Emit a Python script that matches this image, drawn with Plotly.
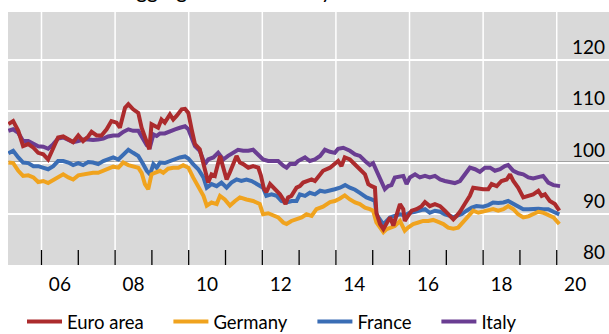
import plotly.graph_objects as go

# ---------------- data (index values) ----------------
euro_x = [2005.10, 2005.23, 2005.37, 2005.50, 2005.64, 2005.78, 2005.91, 2006.05, 2006.18, 2006.32,
          2006.45, 2006.59, 2006.73, 2006.86, 2007.00, 2007.13, 2007.27, 2007.36, 2007.50, 2007.63,
          2007.77, 2007.90, 2008.04, 2008.13, 2008.27, 2008.36, 2008.49, 2008.63, 2008.72, 2008.86,
          2008.93, 2008.99, 2009.08, 2009.17, 2009.26, 2009.35, 2009.49, 2009.58, 2009.67, 2009.81,
          2009.90, 2009.99, 2010.08, 2010.17, 2010.30, 2010.44, 2010.53, 2010.62, 2010.71, 2010.85,
          2010.94, 2011.03, 2011.12, 2011.21, 2011.30, 2011.39, 2011.48, 2011.62, 2011.75, 2011.89,
          2011.96, 2012.04, 2012.11, 2012.21, 2012.30, 2012.39, 2012.48, 2012.57, 2012.63, 2012.70,
          2012.79, 2012.93, 2013.02, 2013.11, 2013.20, 2013.34, 2013.43, 2013.56, 2013.65, 2013.84,
          2013.97, 2014.06, 2014.15, 2014.24, 2014.38, 2014.52, 2014.65, 2014.79, 2014.88, 2014.97,
          2015.06, 2015.10, 2015.20, 2015.29, 2015.38, 2015.47, 2015.56, 2015.65, 2015.74, 2015.83,
          2015.87, 2015.96, 2016.06, 2016.19, 2016.33, 2016.42, 2016.55, 2016.69, 2016.83, 2016.96,
          2017.10, 2017.19, 2017.28, 2017.37, 2017.50, 2017.64, 2017.73, 2017.87, 2018.00, 2018.14,
          2018.23, 2018.37, 2018.50, 2018.64, 2018.73, 2018.82, 2018.95, 2019.09, 2019.23, 2019.36,
          2019.50, 2019.59, 2019.68, 2019.81, 2019.95, 2020.07]
euro_y = [107.5, 108.1, 106.2, 103.2, 103.6, 102.9, 101.9, 101.6, 100.6, 102.9,
          104.9, 105.1, 104.5, 104.0, 105.3, 104.2, 105.1, 106.0, 105.3, 105.3,
          106.5, 108.1, 107.8, 106.8, 110.7, 111.4, 110.4, 109.7, 106.8, 103.6,
          102.6, 107.5, 107.1, 106.8, 108.4, 107.8, 109.4, 108.4, 109.1, 110.4,
          110.5, 109.7, 106.5, 103.6, 102.6, 98.1, 96.1, 97.7, 97.4, 101.3,
          98.7, 96.7, 98.1, 100.0, 101.3, 100.0, 99.7, 99.0, 99.3, 99.0,
          97.5, 95.0, 94.2, 95.8, 95.1, 94.5, 93.8, 92.8, 91.9, 93.2,
          93.5, 95.1, 95.4, 96.1, 96.4, 96.7, 96.4, 97.7, 98.4, 99.0,
          99.7, 100.3, 99.3, 101.0, 100.6, 99.7, 98.7, 97.7, 95.8, 95.4,
          95.1, 90.2, 88.0, 87.0, 88.3, 89.3, 87.7, 89.6, 91.9, 90.9,
          88.6, 89.6, 90.6, 90.9, 91.5, 92.3, 91.5, 91.9, 91.5, 90.6,
          89.6, 88.9, 89.6, 90.4, 91.9, 93.5, 95.1, 94.9, 94.8, 94.8,
          95.8, 95.4, 96.4, 96.7, 97.7, 96.4, 95.1, 93.2, 93.5, 93.8,
          94.5, 93.5, 93.8, 92.5, 91.9, 90.6]

germany_x = [2005.10, 2005.23, 2005.37, 2005.50, 2005.64, 2005.78, 2005.91, 2006.05, 2006.18, 2006.32,
             2006.45, 2006.59, 2006.73, 2006.86, 2007.00, 2007.13, 2007.27, 2007.40, 2007.54, 2007.68,
             2007.81, 2007.95, 2008.09, 2008.22, 2008.36, 2008.49, 2008.63, 2008.72, 2008.81, 2008.90,
             2008.99, 2009.08, 2009.22, 2009.31, 2009.44, 2009.58, 2009.72, 2009.85, 2009.99, 2010.12,
             2010.26, 2010.40, 2010.49, 2010.62, 2010.76, 2010.85, 2010.98, 2011.12, 2011.26, 2011.39,
             2011.57, 2011.75, 2011.93, 2012.02, 2012.16, 2012.30, 2012.43, 2012.57, 2012.66, 2012.79,
             2012.93, 2013.07, 2013.20, 2013.34, 2013.47, 2013.65, 2013.84, 2013.97, 2014.11, 2014.24,
             2014.38, 2014.52, 2014.65, 2014.79, 2014.92, 2015.01, 2015.10, 2015.20, 2015.29, 2015.38,
             2015.47, 2015.60, 2015.74, 2015.87, 2015.96, 2016.10, 2016.24, 2016.37, 2016.51, 2016.64,
             2016.78, 2016.92, 2017.05, 2017.19, 2017.32, 2017.46, 2017.60, 2017.73, 2017.87, 2018.00,
             2018.14, 2018.27, 2018.41, 2018.55, 2018.68, 2018.82, 2018.95, 2019.09, 2019.23, 2019.36,
             2019.50, 2019.63, 2019.77, 2019.91, 2020.07]
germany_y = [100.0, 99.9, 98.4, 97.4, 97.5, 97.1, 96.2, 96.4, 96.0, 96.6,
             97.1, 97.7, 97.1, 96.7, 97.5, 97.7, 97.9, 98.0, 98.0, 98.4,
             98.7, 99.2, 99.0, 100.0, 99.5, 99.2, 99.0, 98.0, 95.8, 94.8,
             97.7, 98.0, 98.4, 98.0, 98.8, 99.0, 99.0, 99.5, 99.0, 97.1,
             95.1, 93.5, 91.6, 92.2, 91.9, 93.5, 92.8, 91.6, 92.5, 93.2,
             92.8, 92.5, 91.9, 89.9, 90.1, 89.6, 89.3, 88.3, 88.0, 88.6,
             88.9, 89.3, 89.9, 89.6, 90.9, 91.4, 92.3, 92.5, 93.0, 93.6,
             92.8, 92.2, 91.9, 91.2, 90.9, 90.6, 88.3, 87.3, 86.4, 87.0,
             87.3, 87.6, 88.6, 86.7, 87.3, 88.0, 88.3, 88.6, 88.6, 88.8,
             88.4, 88.0, 87.3, 87.1, 87.3, 88.4, 89.6, 90.6, 90.2, 90.4,
             90.6, 90.9, 90.6, 90.9, 91.5, 90.9, 89.9, 89.3, 89.5, 89.9,
             90.4, 90.2, 89.7, 89.3, 88.0]

france_x = [2005.10, 2005.23, 2005.37, 2005.50, 2005.64, 2005.78, 2005.91, 2006.05, 2006.18, 2006.32,
            2006.45, 2006.59, 2006.73, 2006.86, 2007.00, 2007.13, 2007.27, 2007.40, 2007.54, 2007.68,
            2007.81, 2007.95, 2008.09, 2008.22, 2008.36, 2008.49, 2008.63, 2008.76, 2008.86, 2008.95,
            2009.04, 2009.13, 2009.22, 2009.35, 2009.49, 2009.63, 2009.76, 2009.90, 2009.99, 2010.12,
            2010.26, 2010.40, 2010.49, 2010.62, 2010.76, 2010.89, 2011.03, 2011.16, 2011.30, 2011.43,
            2011.57, 2011.71, 2011.84, 2012.02, 2012.11, 2012.25, 2012.39, 2012.52, 2012.66, 2012.80,
            2012.93, 2013.02, 2013.16, 2013.29, 2013.43, 2013.57, 2013.70, 2013.84, 2013.97, 2014.11,
            2014.25, 2014.38, 2014.52, 2014.65, 2014.83, 2014.97, 2015.06, 2015.10, 2015.20, 2015.29,
            2015.38, 2015.47, 2015.60, 2015.74, 2015.87, 2016.01, 2016.15, 2016.28, 2016.42, 2016.55,
            2016.69, 2016.83, 2016.96, 2017.10, 2017.19, 2017.28, 2017.41, 2017.55, 2017.69, 2017.82,
            2018.00, 2018.14, 2018.27, 2018.41, 2018.55, 2018.68, 2018.82, 2018.95, 2019.09, 2019.23,
            2019.36, 2019.50, 2019.63, 2019.77, 2019.91, 2020.07]
france_y = [101.8, 102.3, 101.0, 100.0, 99.9, 99.3, 99.3, 99.0, 98.7, 99.3,
            100.3, 100.3, 100.0, 99.5, 99.9, 99.5, 100.1, 100.0, 99.7, 100.3,
            100.6, 101.0, 100.6, 101.6, 102.5, 101.9, 101.3, 99.7, 98.4, 97.7,
            99.7, 99.0, 100.0, 99.9, 100.3, 100.6, 101.0, 101.2, 100.8, 99.7,
            98.7, 97.1, 95.1, 95.8, 95.4, 96.1, 95.1, 96.1, 96.7, 96.4,
            96.7, 96.4, 95.8, 95.1, 93.5, 93.8, 93.5, 92.5, 92.2, 92.5,
            92.5, 93.8, 93.5, 94.1, 93.8, 94.5, 94.3, 94.5, 94.8, 95.1,
            95.6, 95.1, 94.7, 94.1, 93.2, 92.8, 92.5, 89.9, 88.9, 87.9,
            88.6, 89.3, 89.6, 89.9, 89.7, 90.2, 90.4, 90.6, 90.9, 90.2,
            90.6, 90.4, 89.9, 89.6, 89.3, 89.6, 89.9, 90.6, 91.2, 91.5,
            91.4, 91.7, 92.2, 92.1, 92.2, 92.5, 91.9, 91.5, 90.9, 90.9,
            91.0, 91.0, 90.9, 90.9, 90.4, 89.9]

italy_x = [2005.10, 2005.23, 2005.37, 2005.50, 2005.64, 2005.78, 2005.91, 2006.05, 2006.18, 2006.32,
           2006.45, 2006.59, 2006.73, 2006.86, 2007.00, 2007.13, 2007.27, 2007.40, 2007.54, 2007.68,
           2007.81, 2007.95, 2008.09, 2008.22, 2008.36, 2008.49, 2008.63, 2008.76, 2008.86, 2008.95,
           2009.04, 2009.13, 2009.22, 2009.35, 2009.49, 2009.63, 2009.76, 2009.90, 2009.99, 2010.08,
           2010.17, 2010.30, 2010.44, 2010.53, 2010.67, 2010.80, 2010.94, 2011.07, 2011.21, 2011.34,
           2011.48, 2011.62, 2011.75, 2011.89, 2012.02, 2012.16, 2012.30, 2012.43, 2012.57, 2012.66,
           2012.75, 2012.89, 2012.97, 2013.16, 2013.29, 2013.43, 2013.57, 2013.70, 2013.84, 2013.97,
           2014.06, 2014.20, 2014.29, 2014.38, 2014.52, 2014.65, 2014.79, 2014.92, 2015.01, 2015.11,
           2015.24, 2015.33, 2015.42, 2015.51, 2015.60, 2015.74, 2015.83, 2015.92, 2016.01, 2016.15,
           2016.28, 2016.42, 2016.55, 2016.69, 2016.83, 2016.96, 2017.10, 2017.23, 2017.37, 2017.51,
           2017.64, 2017.78, 2017.91, 2018.05, 2018.19, 2018.32, 2018.46, 2018.59, 2018.68, 2018.82,
           2018.96, 2019.09, 2019.23, 2019.36, 2019.50, 2019.63, 2019.77, 2019.91, 2020.09]
italy_y = [106.2, 106.5, 105.8, 104.2, 104.2, 103.6, 103.2, 103.1, 102.7, 103.6,
           104.7, 104.9, 104.5, 104.0, 104.2, 104.5, 104.5, 104.4, 104.5, 104.7,
           105.1, 105.3, 105.3, 106.0, 106.5, 106.2, 106.2, 104.5, 103.4, 103.1,
           105.5, 105.2, 105.7, 105.7, 106.2, 106.5, 106.8, 107.1, 106.5, 104.9,
           103.2, 102.3, 99.7, 100.6, 101.0, 101.9, 100.6, 101.3, 101.9, 102.5,
           102.3, 102.3, 102.5, 101.6, 100.6, 100.3, 100.3, 100.3, 99.4, 99.0,
           99.7, 99.7, 100.3, 101.0, 100.3, 100.6, 101.3, 102.5, 102.1, 101.9,
           102.7, 102.9, 102.6, 102.3, 101.6, 101.3, 100.3, 99.5, 99.9, 98.4,
           96.1, 94.8, 95.4, 95.6, 97.1, 97.4, 97.4, 95.8, 97.1, 97.7,
           97.1, 97.4, 97.1, 97.4, 96.7, 96.4, 96.2, 96.0, 96.4, 97.7,
           99.0, 98.7, 98.2, 99.0, 99.0, 98.4, 98.7, 99.3, 99.5, 98.4,
           97.9, 97.7, 97.1, 96.9, 97.1, 97.4, 96.1, 95.6, 95.4]

x_label_positions = [2006.5, 2008.5, 2010.5, 2012.5, 2014.5, 2016.5, 2018.5, 2020.5]
x_label_text = ["06", "08", "10", "12", "14", "16", "18", "20"]
x_grid_years = [2006, 2008, 2010, 2012, 2014, 2016, 2018, 2020]
x_tick_years = list(range(2006, 2021))
y_tick_values = [80, 90, 100, 110, 120]
y_tick_text = ["80", "90", "100", "110", "120"]
reference_level = 100
title_text = "Aggregate and country indices"

for xs, ys in [(euro_x, euro_y), (germany_x, germany_y), (france_x, france_y), (italy_x, italy_y)]:
    assert len(xs) == len(ys), (len(xs), len(ys))

# ---------------- figure ----------------
FONT = "Lato, 'Liberation Sans', sans-serif"
X_RANGE = [2005.09, 2021.42]
Y_RANGE = [80, 129.4]
PLOT_H = 334 - 12 - 69

series = [
    ("Italy", italy_x, italy_y, "#6A3D92", "legend4"),
    ("France", france_x, france_y, "#3A6DB5", "legend3"),
    ("Germany", germany_x, germany_y, "#F0A31E", "legend2"),
    ("Euro area", euro_x, euro_y, "#AC2B2D", "legend"),
]

fig = go.Figure()
for name, xs, ys, color, leg in series:
    fig.add_trace(go.Scatter(x=xs, y=ys, mode="lines", name=name,
                             line=dict(color=color, width=4),
                             legend=leg, hoverinfo="skip"))

# vertical white gridlines every two years
for yr in x_grid_years:
    fig.add_shape(type="line", xref="x", x0=yr, x1=yr, yref="paper", y0=0, y1=1,
                  line=dict(color="white", width=1.5), layer="between")
# yearly tick marks pointing into the plot
for yr in x_tick_years:
    fig.add_shape(type="line", xref="x", x0=yr, x1=yr, yref="paper", y0=0, y1=15 / PLOT_H,
                  line=dict(color="black", width=1.3), layer="above")
# reference line at 100
fig.add_shape(type="line", xref="paper", x0=0, x1=1, yref="y",
              y0=reference_level, y1=reference_level,
              line=dict(color="black", width=1.5), layer="between")

# right-hand y labels sitting just above their gridlines
for v, t in zip(y_tick_values, y_tick_text):
    fig.add_annotation(text=t, xref="paper", x=1, xanchor="right", xshift=-2,
                       yref="y", y=v, yanchor="bottom", yshift=0, showarrow=False,
                       font=dict(family=FONT, size=19, color="black"))

fig.add_annotation(text=title_text, xref="paper", yref="paper",
                   x=0.186, xanchor="left", y=1.03, yanchor="bottom",
                   showarrow=False, font=dict(family=FONT, size=21, color="black"))

legend_common = dict(orientation="h", xanchor="left", y=-0.225, yanchor="middle",
                     font=dict(family=FONT, size=18.5), bgcolor="rgba(0,0,0,0)",
                     itemwidth=35, itemclick=False, itemdoubleclick=False)
fig.update_layout(
    width=609, height=334,
    margin=dict(l=8, r=0, t=12, b=69, autoexpand=False),
    paper_bgcolor="white", plot_bgcolor="#D9D9D9",
    font=dict(family=FONT, size=19, color="black"),
    showlegend=True,
    legend=dict(x=0.0233, **legend_common),
    legend2=dict(x=0.2669, **legend_common),
    legend3=dict(x=0.5065, **legend_common),
    legend4=dict(x=0.7128, **legend_common),
    xaxis=dict(range=X_RANGE, tickmode="array", tickvals=x_label_positions,
               ticktext=x_label_text, ticks="", showgrid=False, automargin=False,
               zeroline=False, showline=False, ticklabelstandoff=6),
    yaxis=dict(range=Y_RANGE, tickvals=y_tick_values, showticklabels=False, ticks="",
               showgrid=True, gridcolor="white", gridwidth=1.5, zeroline=False,
               showline=False, automargin=False),
)

fig.write_html("out.html", config={"displayModeBar": False},
               post_script="document.body.style.margin='0px';")
